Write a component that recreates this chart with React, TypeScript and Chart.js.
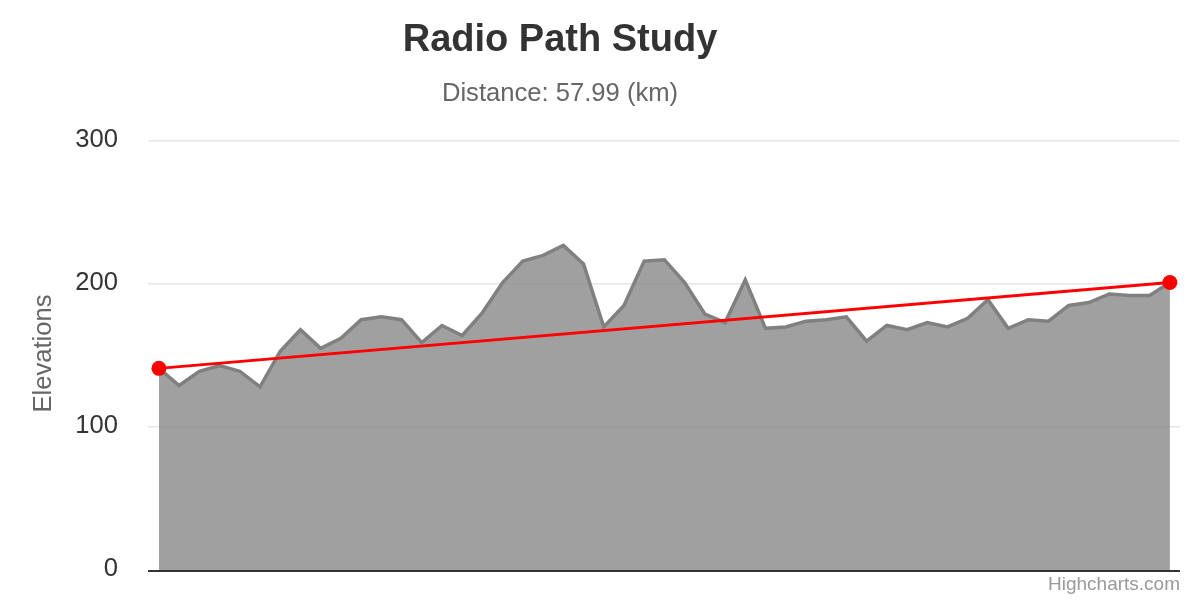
import React, { useEffect, useRef } from "react";
import { Chart, registerables } from "chart.js";

Chart.register(...registerables);

const titleText = "Radio Path Study";
const subtitleText = "Distance: 57.99 (km)";
const yAxisTitle = "Elevations";
const creditText = "Highcharts.com";

const elevations: number[] = [
  141, 129, 139, 143, 139, 128, 153, 168, 155, 162,
  175, 177, 175, 159, 171, 164, 180, 201, 216, 220,
  227, 214, 170, 185, 216, 217, 201, 179, 173, 203,
  169, 170, 174, 175, 177, 160, 171, 168, 173, 170,
  176, 189, 169, 175, 174, 185, 187, 193, 192, 192,
  201,
];

const pathStartElevation = 141;
const pathEndElevation = 201;
const yTicks: number[] = [0, 100, 200, 300];

const FONT = "'Liberation Sans', Arial, sans-serif";

const textPlugin = {
  id: "customText",
  afterDatasetsDraw(chart: any) {
    const ctx = chart.ctx;
    const area = chart.chartArea;
    ctx.save();
    ctx.strokeStyle = "#333333";
    ctx.lineWidth = 2;
    ctx.beginPath();
    ctx.moveTo(area.left, area.bottom + 1);
    ctx.lineTo(area.right, area.bottom + 1);
    ctx.stroke();
    ctx.restore();
  },
  afterDraw(chart: any) {
    const ctx = chart.ctx;
    const area = chart.chartArea;
    const yScale = chart.scales.y;
    ctx.save();
    ctx.textAlign = "center";
    ctx.textBaseline = "alphabetic";
    ctx.fillStyle = "#333333";
    ctx.font = `bold 38px ${FONT}`;
    ctx.fillText(titleText, 560, 51);
    ctx.fillStyle = "#666666";
    ctx.font = `25.6px ${FONT}`;
    ctx.fillText(subtitleText, 560, 101);

    ctx.textAlign = "right";
    ctx.fillStyle = "#333333";
    ctx.font = `25.6px ${FONT}`;
    yScale.ticks.forEach((t: any) => {
      const py = yScale.getPixelForValue(t.value);
      ctx.fillText(String(t.value), 118, py + 5.5);
    });

    ctx.save();
    ctx.textAlign = "center";
    ctx.translate(51, (area.top + area.bottom) / 2 - 2);
    ctx.rotate(-Math.PI / 2);
    ctx.fillStyle = "#666666";
    ctx.font = `25.6px ${FONT}`;
    ctx.fillText(yAxisTitle, 0, 0);
    ctx.restore();

    ctx.textAlign = "right";
    ctx.fillStyle = "#999999";
    ctx.font = `19px ${FONT}`;
    ctx.fillText(creditText, 1180, 590);
    ctx.restore();
  },
};

export default function App() {
  const ref = useRef<HTMLCanvasElement>(null);

  useEffect(() => {
    if (!ref.current) return;
    const chart = new Chart(ref.current, {
      type: "line",
      data: {
        datasets: [
          {
            label: "Path",
            data: [
              { x: 0, y: pathStartElevation },
              { x: elevations.length - 1, y: pathEndElevation },
            ],
            borderColor: "#ff0000",
            backgroundColor: "#ff0000",
            borderWidth: 3,
            pointRadius: 7.5,
            pointBorderWidth: 0,
            fill: false,
            order: 0,
          },
          {
            label: "Elevation",
            data: elevations.map((v, i) => ({ x: i, y: v })),
            borderColor: "#808080",
            backgroundColor: "rgba(128,128,128,0.75)",
            borderWidth: 3.5,
            pointRadius: 0,
            tension: 0,
            fill: "origin",
            order: 1,
          },
        ],
      },
      options: {
        animation: false,
        responsive: false,
        devicePixelRatio: 1,
        layout: { padding: { top: 141, right: 20, bottom: 30, left: 0 } },
        plugins: {
          legend: { display: false },
          title: { display: false },
          tooltip: { enabled: false },
        },
        scales: {
          x: {
            type: "linear",
            display: false,
            min: -0.54,
            max: 50.5,
          },
          y: {
            min: 0,
            max: 300,
            afterBuildTicks: (s: any) => {
              s.ticks = yTicks.map((v) => ({ value: v }));
            },
            ticks: { display: false },
            grid: {
              color: (c: any) => (c.tick && c.tick.value === 0 ? "rgba(0,0,0,0)" : "#e6e6e6"),
              lineWidth: 1.5,
              drawTicks: false,
            },
            border: { display: false },
            afterFit: (s: any) => {
              s.width = 148;
            },
          },
        },
      },
      plugins: [textPlugin],
    });
    return () => chart.destroy();
  }, []);

  return (
    <div style={{ position: "fixed", left: 0, top: 0, width: 1200, height: 600, background: "#fff" }}>
      <canvas ref={ref} width={1200} height={600} style={{ width: 1200, height: 600 }} />
    </div>
  );
}
